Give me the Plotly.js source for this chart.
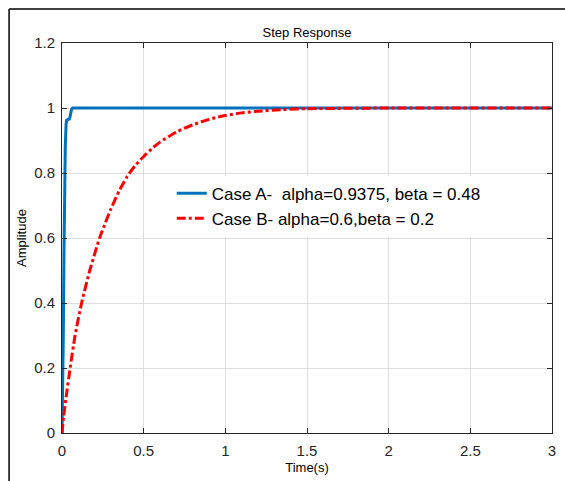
<!DOCTYPE html>
<html>
<head>
<meta charset="utf-8">
<script src="https://cdn.plot.ly/plotly-3.0.1.min.js"></script>
<style>html,body{margin:0;padding:0;background:#fff;}#plot{width:565px;height:481px;}</style>
</head>
<body>
<div id="plot"></div>
<script>
const timeA = [0, 0.004, 0.008, 0.012, 0.016, 0.02, 0.025, 0.028, 0.035, 0.045, 0.05, 0.058, 0.065, 0.07, 0.1, 0.5, 1, 1.5, 2, 2.5, 3];
const ampA  = [0, 0.1, 0.3, 0.55, 0.75, 0.88, 0.95, 0.962, 0.964, 0.966, 0.975, 0.995, 1.0, 1.0, 1.0, 1.0, 1.0, 1.0, 1.0, 1.0, 1.0];
const timeB = [0, 0.01, 0.025, 0.05, 0.08, 0.12, 0.17, 0.23, 0.26, 0.3, 0.35, 0.4, 0.45, 0.5, 0.55, 0.6, 0.7, 0.8, 0.9, 1.0, 1.1, 1.2, 1.35, 1.5, 1.75, 2.0, 2.5, 3.0];
const ampB  = [0, 0.05, 0.11, 0.2, 0.3, 0.4, 0.5, 0.6, 0.64, 0.69, 0.745, 0.79, 0.824, 0.851, 0.875, 0.895, 0.926, 0.948, 0.965, 0.977, 0.985, 0.99, 0.995, 0.998, 0.999, 1.0, 1.0, 1.0];
const xTicks = [0, 0.5, 1, 1.5, 2, 2.5, 3];
const xTickLabels = ['0', '0.5', '1', '1.5', '2', '2.5', '3'];
const yTicks = [0, 0.2, 0.4, 0.6, 0.8, 1, 1.2];
const yTickLabels = ['0', '0.2', '0.4', '0.6', '0.8', '1', '1.2'];
const nameA = 'Case A-  alpha=0.9375, beta = 0.48';
const nameB = 'Case B- alpha=0.6,beta = 0.2';

const font = 'Liberation Sans, Arial, sans-serif';
const traces = [
  {x: timeA, y: ampA, type: 'scatter', mode: 'lines', name: nameA,
   line: {color: '#0072BD', width: 3}},
  {x: timeB, y: ampB, type: 'scatter', mode: 'lines', name: nameB, line: {color: '#FF0000', width: 3, dash: 'dashdot', shape: 'spline', smoothing: 0.6}}
];
const axisCommon = {
  showline: true, linecolor: '#262626', linewidth: 1, mirror: 'ticks',
  ticks: 'inside', ticklen: 5, tickcolor: '#262626', tickwidth: 1,
  showgrid: true, gridcolor: '#dedede', gridwidth: 1, zeroline: false,
  tickfont: {family: font, size: 15, color: '#262626'}, tickmode: 'array'
};
const layout = {
  width: 565, height: 481,
  margin: {l: 62, r: 13, t: 43, b: 48},
  paper_bgcolor: '#ffffff', plot_bgcolor: '#ffffff',
  title: {text: 'Step Response', font: {family: font, size: 13, color: '#000'}, x: 0.5, xref: 'paper', y: 1, yref: 'paper', yanchor: 'bottom', pad: {b: 6}},
  xaxis: Object.assign({}, axisCommon, {range: [0, 3], tickvals: xTicks, ticktext: xTickLabels, ticklabelstandoff: 4,
    title: {text: 'Time(s)', font: {family: font, size: 13, color: '#000'}, standoff: 4}}),
  yaxis: Object.assign({}, axisCommon, {range: [0, 1.2], tickvals: yTicks, ticktext: yTickLabels, ticklabelstandoff: 3,
    title: {text: 'Amplitude', font: {family: font, size: 13, color: '#000'}, standoff: 4}}),
  showlegend: true,
  legend: {x: 0.224, y: 0.66, xanchor: 'left', yanchor: 'top', bgcolor: 'rgba(255,255,255,1)',
    borderwidth: 0, font: {family: font, size: 17, color: '#000'}, tracegroupgap: 0, itemwidth: 30},
  shapes: [
    {type: 'line', xref: 'paper', yref: 'paper', x0: -0.108, x1: -0.108, y0: 1.087, y1: -0.13, line: {color: '#000', width: 1.5}},
    {type: 'line', xref: 'paper', yref: 'paper', x0: -0.108, x1: 1.03, y0: 1.087, y1: 1.087, line: {color: '#000', width: 1.5}}
  ]
};
Plotly.newPlot('plot', traces, layout, {displayModeBar: false, staticPlot: true});
</script>
</body>
</html>
